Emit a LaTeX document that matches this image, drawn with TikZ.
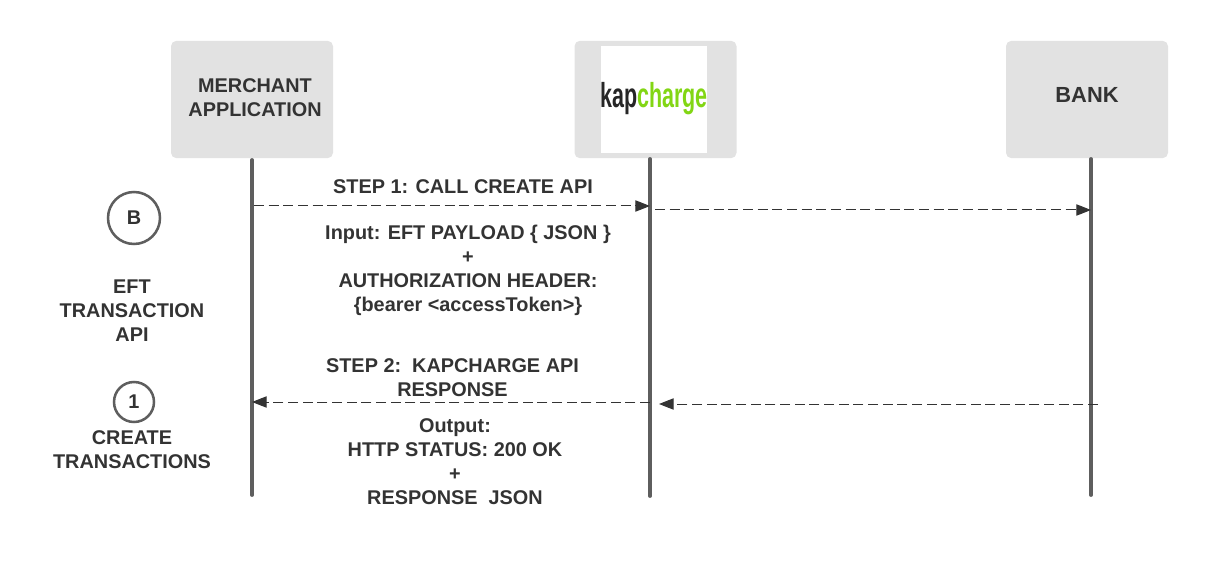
\documentclass[tikz,border=0pt]{standalone}
\usepackage{fontspec}
\setmainfont{Liberation Sans}
\usepackage{tikz}
\usetikzlibrary{positioning,calc}
\usetikzlibrary{arrows.meta}
\definecolor{BoxGray}{RGB}{226,226,226}
\definecolor{LifeGray}{RGB}{94,94,94}
\definecolor{TextDark}{RGB}{51,51,51}
\definecolor{LogoGreen}{RGB}{130,214,20}
\tikzset{
  party/.style={draw=none,fill=BoxGray,rounded corners=4pt,minimum width=121.5pt,minimum height=88pt,inner sep=0pt},
  lab/.style={align=center,inner sep=0pt,text=TextDark,font=\fontsize{14.9}{18}\selectfont\bfseries},
  badge/.style={circle,draw=LifeGray,fill=white,line width=1.9pt,inner sep=0pt,text=TextDark,font=\fontsize{14.9}{18}\selectfont\bfseries},
  life/.style={draw=LifeGray,line width=2.9pt,line cap=round},
  call/.style={draw=TextDark,line width=0.75pt,dash pattern=on 7.5pt off 3.5pt,-{Triangle[length=11pt,width=8.5pt]}},
}
\begin{document}
\begin{tikzpicture}[x=0.75pt,y=-0.75pt]
\useasboundingbox (0,0) rectangle (1208,563);
\node[party] (merchant) at (252,99.5) {};
\node[party] (kapbox) at (655.5,99.5) {};
\node[party] (bank) at (1087,99.5) {};
\node[lab] (merchanttext) at (255,98) {MERCHANT\\APPLICATION};
\node[lab,font=\fontsize{16.4}{18}\selectfont\bfseries] (banktext) at (1087,95) {BANK};
\node[fill=white,minimum width=79.5pt,minimum height=80pt,inner sep=0pt] (logobox) at (654,99.5) {};
\node[inner sep=0pt,font=\fontsize{26}{27}\selectfont\bfseries,xscale=0.62] (logo) at (654,99) {\textcolor{black!85}{kap}\textcolor{LogoGreen}{charge}};
% lifelines
\coordinate (mtop) at (252,160);
\coordinate (mend) at (252,495);
\coordinate (ktop) at (650,159);
\coordinate (kend) at (650,496);
\coordinate (btop) at (1091,159);
\coordinate (bend) at (1091,495);
\draw[life] (mtop)--(mend);
\draw[life] (ktop)--(kend);
\draw[life] (btop)--(bend);
% calls
\coordinate (ca) at (254,206);
\coordinate (cb) at (650,206);
\coordinate (cc) at (655,210);
\coordinate (cd) at (1091,210);
\coordinate (ce) at (1098,404);
\coordinate (cf) at (659,404);
\coordinate (cg) at (650,402);
\coordinate (ch) at (252,402);
\draw[call] (ca)--(cb);
\draw[call] (cc)--(cd);
\draw[call] (ce)--(cf);
\draw[call] (cg)--(ch);
% labels
\node[badge,minimum size=39pt] (markb) at (134,218) {B};
\node[badge,minimum size=30pt] (markone) at (134,402) {1};
\node[lab] (eft) at (132,311) {EFT\\TRANSACTION\\API};
\node[lab] (create) at (132,450) {CREATE\\TRANSACTIONS};
\node[lab] (stepone) at (463,187) {STEP 1: CALL CREATE API};
\node[lab] (input) at (468,270) {Input: EFT PAYLOAD \{ JSON \}\\+\\AUTHORIZATION HEADER:\\\{bearer <accessToken>\}};
\node[lab] (steptwo) at (452.5,378) {STEP 2:\ \ KAPCHARGE API\\RESPONSE};
\node[lab] (output) at (455,462) {Output:\\HTTP STATUS: 200 OK\\+\\RESPONSE\ \ JSON};
\end{tikzpicture}
\end{document}
